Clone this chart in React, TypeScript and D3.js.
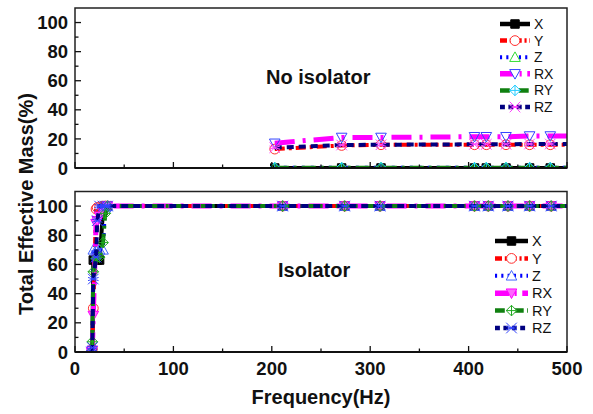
import React from 'react';
import * as d3 from 'd3';

// ---- data ----
const seriesNames = ['X', 'Y', 'Z', 'RX', 'RY', 'RZ'];
const xTicks = [0, 100, 200, 300, 400, 500];
const yTicks = [0, 20, 40, 60, 80, 100];

// No isolator (top panel)
const topFreq = [203, 271, 311, 406, 418, 438, 462, 483, 520];
const topX = [0, 0, 0, 0, 0, 0, 0, 0, 0];
const topY = [13, 15.5, 16, 16, 16, 16, 16, 16, 16];
const topZ = [0.3, 0.3, 0.3, 0.3, 0.3, 0.3, 0.3, 0.3, 0.3];
const topRX = [17, 21, 21, 21.5, 21.5, 21.5, 22, 22, 22];
const topRY = [0.2, 0.2, 0.2, 0.2, 0.2, 0.2, 0.2, 0.2, 0.2];
const topRZ = [14, 15.8, 16, 16.3, 16.3, 16.3, 16.5, 16.5, 16.5];

// Isolator (bottom panel)
const botFreq = [16.8, 17.6, 18.6, 21.4, 22.6, 25, 28.5, 30.8, 33, 211, 274, 310, 406, 420, 440, 462, 484, 520];
const botX = [0, 1, 63, 63, 63, 63, 97, 100, 100, 100, 100, 100, 100, 100, 100, 100, 100, 100];
const botY = [0, 2, 30, 98, 99, 99.5, 100, 100, 100, 100, 100, 100, 100, 100, 100, 100, 100, 100];
const botZ = [0, 1, 70, 70, 70, 70, 70, 99, 100, 100, 100, 100, 100, 100, 100, 100, 100, 100];
const botRX = [0, 1, 25, 88, 90, 93, 96, 97, 100, 100, 100, 100, 100, 100, 100, 100, 100, 100];
const botRY = [0, 7, 55, 64, 65, 65, 75, 95, 100, 100, 100, 100, 100, 100, 100, 100, 100, 100];
const botRZ = [0, 3, 50, 65, 90, 100, 100, 100, 100, 100, 100, 100, 100, 100, 100, 100, 100, 100];

const FONT = "'Liberation Sans', Arial, Helvetica, sans-serif";

type Style = { color: string; width: number; dash: string; marker: string; mStroke: string; mFill: string };

const topStyles: Style[] = [
  { color: '#000000', width: 4, dash: '', marker: 'square', mStroke: '#000', mFill: '#000' },
  { color: '#ff0000', width: 4, dash: '10,4,3,4', marker: 'circle', mStroke: '#ff3030', mFill: 'none' },
  { color: '#0000ff', width: 3.5, dash: '3,6', marker: 'tri', mStroke: '#33dd33', mFill: 'none' },
  { color: '#ff00ff', width: 5, dash: '20,8,3,8', marker: 'tridown', mStroke: '#3344ff', mFill: 'none' },
  { color: '#108010', width: 4, dash: '14,5,3,5', marker: 'diamond', mStroke: '#22ccff', mFill: 'none' },
  { color: '#000080', width: 4, dash: '7,5', marker: 'star', mStroke: '#ff44ff', mFill: 'none' },
];
const botStyles: Style[] = [
  { color: '#000000', width: 4, dash: '', marker: 'square', mStroke: '#000', mFill: '#000' },
  { color: '#ff0000', width: 4, dash: '10,4,3,4', marker: 'circle', mStroke: '#ff3030', mFill: 'none' },
  { color: '#0000ff', width: 3.5, dash: '3,6', marker: 'tri', mStroke: '#4466ff', mFill: 'none' },
  { color: '#ff00ff', width: 5, dash: '20,8,3,8', marker: 'tridown', mStroke: '#ff00ff', mFill: '#ff66ff' },
  { color: '#108010', width: 4, dash: '14,5,3,5', marker: 'diamond', mStroke: '#22aa22', mFill: 'none' },
  { color: '#000080', width: 4, dash: '7,5', marker: 'star', mStroke: '#3344ff', mFill: 'none' },
];

function markerPath(kind: string): string {
  const s = 5.3;
  switch (kind) {
    case 'square':
      return d3.symbol(d3.symbolSquare, 72)() as string;
    case 'circle':
      return d3.symbol(d3.symbolCircle, 75)() as string;
    case 'tri':
      return `M0,${-s}L${s},${s * 0.8}L${-s},${s * 0.8}Z`;
    case 'tridown':
      return `M0,${s}L${s},${-s * 0.8}L${-s},${-s * 0.8}Z`;
    case 'diamond':
      return `M0,${-s}L${s},0L0,${s}L${-s},0ZM0,${-s}L0,${s}M${-s},0L${s},0`;
    case 'star':
      return `M${-s},${-s}L${s},${s}M${-s},${s}L${s},${-s}M${-s},${-s * 0.3}L${s},${s * 0.3}M${-s},${s * 0.3}L${s},${-s * 0.3}`;
  }
  return '';
}

const W = 593;
const H = 414;
const x = d3.scaleLinear().domain([0, 500]).range([75, 567]);

type PanelProps = {
  id: string;
  y0: number;
  y1: number;
  freq: number[];
  data: number[][];
  styles: Style[];
  showXLabels: boolean;
  legend: { x1: number; x2: number; lx: number; ly: number; dy: number; fs: number };
  title: string;
  titleX: number;
  titleY: number;
};

function Panel(p: PanelProps) {
  const y = d3.scaleLinear().domain([0, 110]).range([p.y0, p.y1]);
  const line = d3
    .line<[number, number]>()
    .x((d) => x(d[0]))
    .y((d) => y(d[1]));
  const majorX = d3.range(0, 501, 100);
  const minorX = d3.range(50, 500, 100);
  const minorY = d3.range(10, 110, 20);
  const left = x.range()[0];
  const right = x.range()[1];
  return (
    <g>
      <defs>
        <clipPath id={p.id}>
          <rect x={left} y={p.y1} width={right - left} height={p.y0 - p.y1} />
        </clipPath>
      </defs>
      <g clipPath={`url(#${p.id})`}>
        {p.data.map((vals, si) => {
          const st = p.styles[si];
          const pts = p.freq.map((f, i) => [f, vals[i]] as [number, number]);
          return (
            <g key={si}>
              <path d={line(pts) || ''} fill="none" stroke={st.color} strokeWidth={st.width} strokeDasharray={st.dash || undefined} />
              {pts.map((d, i) => (
                <path
                  key={i}
                  d={markerPath(st.marker)}
                  transform={`translate(${x(d[0])},${y(d[1])})`}
                  fill={st.mFill}
                  stroke={st.mStroke}
                  strokeWidth={1}
                />
              ))}
            </g>
          );
        })}
      </g>
      {/* frame */}
      <rect x={left} y={p.y1} width={right - left} height={p.y0 - p.y1} fill="none" stroke="#222" strokeWidth={1.5} />
      <line x1={left} x2={right} y1={p.y0} y2={p.y0} stroke="#111" strokeWidth={2} />
      {majorX.map((t) => (
        <line key={'mx' + t} x1={x(t)} x2={x(t)} y1={p.y0} y2={p.y0 - 6} stroke="#111" strokeWidth={1.3} />
      ))}
      {minorX.map((t) => (
        <line key={'nx' + t} x1={x(t)} x2={x(t)} y1={p.y0} y2={p.y0 - 3.5} stroke="#111" strokeWidth={1.3} />
      ))}
      {yTicks.map((t) => (
        <g key={'my' + t}>
          <line x1={left} x2={left + 6} y1={y(t)} y2={y(t)} stroke="#111" strokeWidth={1.3} />
          <text x={68} y={y(t)} dy="0.36em" textAnchor="end" fontFamily={FONT} fontWeight="bold" fontSize={18.5} fill="#111">
            {t}
          </text>
        </g>
      ))}
      {minorY.map((t) => (
        <line key={'ny' + t} x1={left} x2={left + 3.5} y1={y(t)} y2={y(t)} stroke="#111" strokeWidth={1.3} />
      ))}
      {p.showXLabels &&
        xTicks.map((t) => (
          <text key={'lx' + t} x={x(t)} y={p.y0 + 23} textAnchor="middle" fontFamily={FONT} fontWeight="bold" fontSize={18.5} fill="#111">
            {t}
          </text>
        ))}
      <text x={p.titleX} y={p.titleY} fontFamily={FONT} fontWeight="bold" fontSize={20} fill="#111">
        {p.title}
      </text>
      {/* legend */}
      {seriesNames.map((n, i) => {
        const st = p.styles[i];
        const ly = p.legend.ly + i * p.legend.dy;
        const mx = (p.legend.x1 + p.legend.x2) / 2;
        return (
          <g key={'lg' + n}>
            <line x1={p.legend.x1} x2={p.legend.x2} y1={ly} y2={ly} stroke={st.color} strokeWidth={st.width + 0.5} strokeDasharray={st.dash ? st.dash.split(',').map((v) => String(Number(v) * 0.7)).join(',') : undefined} />
            <path d={markerPath(st.marker)} transform={`translate(${mx},${ly})`} fill={st.mFill === 'none' ? '#fff' : st.mFill} stroke={st.mStroke} strokeWidth={1} />
            <text x={p.legend.lx} y={ly} dy="0.36em" fontFamily={FONT} fontSize={p.legend.fs} fill="#111">
              {n}
            </text>
          </g>
        );
      })}
    </g>
  );
}

export default function App() {
  return (
    <svg width={W} height={H} style={{ position: 'absolute', left: 0, top: 0, background: '#fff' }}>
      <rect width={W} height={H} fill="#fff" />
      <Panel
        id="clipTop"
        y0={168}
        y1={8}
        freq={topFreq}
        data={[topX, topY, topZ, topRX, topRY, topRZ]}
        styles={topStyles}
        showXLabels={false}
        legend={{ x1: 500, x2: 530, lx: 534, ly: 24, dy: 16.6, fs: 14 }}
        title="No isolator"
        titleX={266}
        titleY={84}
      />
      <Panel
        id="clipBot"
        y0={352}
        y1={191.5}
        freq={botFreq}
        data={[botX, botY, botZ, botRX, botRY, botRZ]}
        styles={botStyles}
        showXLabels={true}
        legend={{ x1: 495, x2: 528, lx: 532, ly: 241, dy: 17.4, fs: 14.5 }}
        title="Isolator"
        titleX={278}
        titleY={277}
      />
      <text x={321} y={404} textAnchor="middle" fontFamily={FONT} fontWeight="bold" fontSize={20} fill="#111">
        Frequency(Hz)
      </text>
      <text
        transform="translate(33,204) rotate(-90)"
        textAnchor="middle"
        fontFamily={FONT}
        fontWeight="bold"
        fontSize={20}
        fill="#111"
      >
        Total Effective Mass(%)
      </text>
    </svg>
  );
}
